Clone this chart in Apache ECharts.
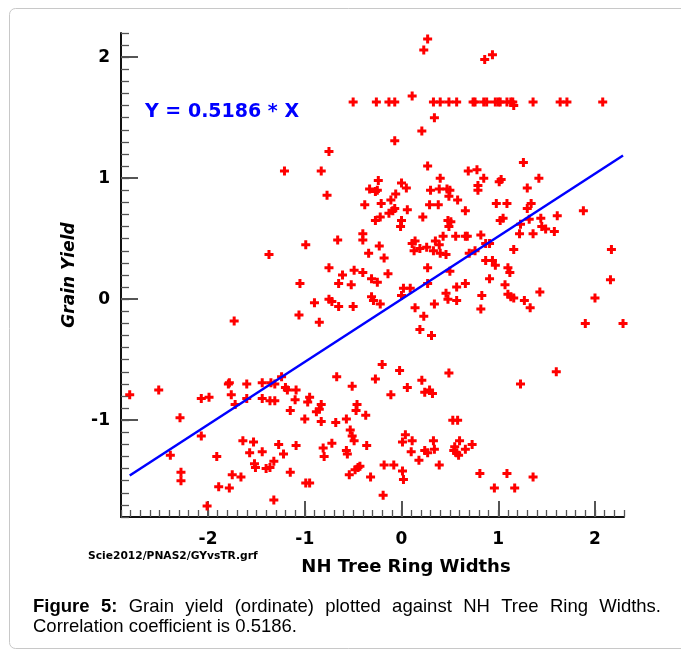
<!DOCTYPE html>
<html>
<head>
<meta charset="utf-8">
<style>
html,body{margin:0;padding:0;background:#fff;}
#chart{width:681px;height:651px;}
</style>
<script src="https://cdn.jsdelivr.net/npm/echarts@6/dist/echarts.min.js"></script>
</head>
<body>
<div id="chart"></div>
<script>
// ---------------- DATA ----------------
const slope = 0.5186;
const xTickLabels = ['-2', '-1', '0', '1', '2'];
const yTickLabels = ['-1', '0', '1', '2'];

// points sitting on the capped row (Grain Yield = 1.63)
const capY = 1.63;
const capRowX = [-0.50, -0.26, -0.13, -0.07, 0.33, 0.40, 0.49, 0.57, 0.74, 0.76, 0.85, 0.88, 0.97, 1.00, 1.02, 1.09, 1.13, 1.15, 1.36, 1.64, 1.71, 2.08];

const highPts = [[0.27,2.15],[0.23,2.06],[0.86,1.98],[0.94,2.02],[0.11,1.68],[1.16,1.60],[0.34,1.50],[0.21,1.39],[-0.07,1.31],[-0.75,1.22]];

const upperLeftPts = [[-1.21,1.06],[-1.37,0.37],[-0.83,1.06],[-0.77,0.86],[0.27,1.10],[0.40,1.00],[-0.24,0.98],[-0.33,0.91],[-0.27,0.89],[-0.25,0.90],[0.00,0.96],[0.05,0.92],[0.30,0.90],[0.39,0.91],[0.47,0.91],[0.50,0.90],[0.49,0.85],[0.58,0.82],[-0.06,0.87],[-0.11,0.82],[-0.38,0.78],[-0.21,0.79],[0.29,0.78],[0.38,0.78],[-0.07,0.75],[-0.09,0.73],[0.06,0.74],[-0.13,0.71],[0.22,0.68],[-0.22,0.68],[-0.27,0.65],[0.00,0.65],[-0.01,0.60],[0.48,0.65],[0.51,0.64],[0.49,0.60],[0.56,0.52],[0.43,0.52],[-0.40,0.54],[-0.40,0.49],[-0.66,0.49],[-0.99,0.45],[-0.23,0.44],[-0.34,0.38],[-0.18,0.34],[0.11,0.46],[0.14,0.48],[0.13,0.40],[0.19,0.42],[0.26,0.43],[0.33,0.40],[0.35,0.48],[0.39,0.45],[0.40,0.38],[0.46,0.37],[-0.75,0.26],[0.27,0.26]];

const upperRightPts = [[1.26,1.13],[0.69,1.06],[0.78,1.07],[0.85,1.00],[1.42,1.00],[1.01,0.97],[1.03,0.99],[0.79,0.94],[0.79,0.90],[1.30,0.92],[0.66,0.73],[0.98,0.79],[1.09,0.79],[1.34,0.79],[1.30,0.75],[1.88,0.73],[1.05,0.67],[1.02,0.65],[1.32,0.66],[1.44,0.67],[1.61,0.69],[1.23,0.62],[1.45,0.60],[1.49,0.58],[1.58,0.56],[0.66,0.52],[0.68,0.52],[0.82,0.53],[1.22,0.54],[1.36,0.54],[0.87,0.46],[0.91,0.46],[0.70,0.38],[0.76,0.40],[1.16,0.41],[2.17,0.41],[0.87,0.32],[0.94,0.32],[0.97,0.28],[1.10,0.26]];

const midPts = [[-1.73,-0.18],[-0.61,0.20],[-0.49,0.24],[-0.40,0.22],[-0.31,0.17],[-0.25,0.14],[-0.14,0.21],[-0.65,0.13],[-0.52,0.12],[-1.05,0.13],[0.02,0.09],[0.09,0.09],[0.27,0.13],[0.00,0.03],[0.50,0.23],[0.46,0.05],[0.48,0.00],[0.34,-0.04],[0.14,-0.07],[0.23,-0.14],[0.19,-0.25],[0.31,-0.30],[-0.90,-0.03],[-0.75,0.00],[-0.72,-0.02],[-0.65,-0.06],[-0.50,-0.06],[-0.31,0.02],[-0.29,-0.01],[-0.22,-0.04],[-1.06,-0.13],[-0.85,-0.19],[1.12,0.22],[0.91,0.17],[0.66,0.13],[0.57,0.10],[0.57,-0.01],[1.07,0.12],[0.83,0.03],[0.82,-0.08],[1.10,0.04],[1.13,0.02],[1.16,0.01],[1.27,-0.01],[1.33,-0.07],[1.43,0.06],[2.16,0.16],[2.00,0.01],[1.90,-0.20],[2.29,-0.20]];

const lowerLeftPts = [[-2.81,-0.79],[-2.51,-0.75],[-2.29,-0.98],[-2.07,-0.82],[-1.99,-0.81],[-1.78,-0.69],[-1.79,-0.70],[-1.76,-0.79],[-1.72,-0.87],[-1.60,-0.70],[-1.60,-0.82],[-1.44,-0.69],[-1.44,-0.82],[-1.35,-0.69],[-1.31,-0.70],[-1.36,-0.84],[-1.31,-0.84],[-1.24,-0.64],[-1.20,-0.73],[-1.18,-0.75],[-1.15,-0.92],[-2.07,-1.13],[-2.39,-1.29],[-2.28,-1.43],[-2.28,-1.50],[-1.91,-1.30],[-1.64,-1.17],[-1.53,-1.18],[-1.57,-1.27],[-1.44,-1.26],[-1.52,-1.36],[-1.51,-1.39],[-1.40,-1.40],[-1.36,-1.39],[-1.32,-1.34],[-1.27,-1.20],[-1.22,-1.28],[-1.15,-1.43],[-1.75,-1.45],[-1.66,-1.47],[-1.89,-1.55],[-1.78,-1.56],[-2.01,-1.71],[-1.32,-1.66]];

const lowerMidPts = [[-0.20,-0.54],[-0.02,-0.59],[-0.27,-0.66],[-0.67,-0.64],[-0.51,-0.72],[0.21,-0.67],[0.06,-0.73],[-0.11,-0.79],[0.24,-0.77],[0.29,-0.75],[0.32,-0.78],[0.49,-0.61],[-1.09,-0.75],[-1.10,-0.83],[-0.95,-0.81],[-0.97,-0.85],[-0.83,-0.87],[-0.85,-0.91],[-0.88,-0.93],[-1.00,-0.99],[-0.83,-1.01],[-0.68,-1.02],[-0.57,-0.99],[-0.46,-0.87],[-0.47,-0.92],[-0.37,-0.96],[-0.53,-1.08],[-0.51,-1.13],[-0.49,-1.17],[-1.09,-1.21],[-0.81,-1.23],[-0.80,-1.30],[-0.72,-1.19],[-0.57,-1.25],[-0.56,-1.28],[-0.36,-1.21],[-0.99,-1.52],[-0.95,-1.52],[-0.54,-1.45],[-0.48,-1.41],[-0.45,-1.39],[-0.43,-1.38],[-0.32,-1.47],[-0.18,-1.37],[-0.08,-1.37],[0.01,-1.42],[0.02,-1.49],[-0.19,-1.62],[0.04,-1.12],[0.01,-1.18],[0.11,-1.17],[0.10,-1.26],[0.18,-1.33],[0.24,-1.25],[0.27,-1.27],[0.33,-1.17],[0.34,-1.24],[0.39,-1.37]];

const lowerRightPts = [[1.60,-0.60],[1.23,-0.70],[0.53,-1.00],[0.58,-1.00],[0.60,-1.17],[0.55,-1.22],[0.54,-1.25],[0.57,-1.27],[0.59,-1.29],[0.66,-1.24],[0.73,-1.20],[0.81,-1.44],[1.09,-1.44],[1.36,-1.47],[0.96,-1.56],[1.17,-1.56]];

// ---------------- BUILD ----------------
const allPts = [].concat(
  capRowX.map(x => [x, capY]),
  highPts, upperLeftPts, upperRightPts, midPts, lowerLeftPts, lowerMidPts, lowerRightPts
);
const xsAll = allPts.map(p => p[0]);
const xLo = Math.min.apply(null, xsAll), xHi = Math.max.apply(null, xsAll);
const fitLine = [[xLo, slope * xLo], [xHi, slope * xHi]];

const X_MIN = -2.9, X_MAX = 2.3, Y_MIN = -1.8, Y_MAX = 2.2;
const AXIS_FONT = 'DejaVu Sans';
const labelFmt = (list) => (v) => {
  const s = String(Math.round(v));
  return list.indexOf(s) >= 0 ? s : '';
};

// caption justification
const mctx = document.createElement('canvas').getContext('2d');
const CAP_FONT = '"Liberation Sans", Arial, sans-serif';
const CAP_SIZE = 18.5;
const line1 = [
  {t:'Figure', b:true},{t:'5:', b:true},{t:'Grain'},{t:'yield'},{t:'(ordinate)'},{t:'plotted'},
  {t:'against'},{t:'NH'},{t:'Tree'},{t:'Ring'},{t:'Widths.'}
];
const capLeft = 33, capRight = 661;
function fontStr(b){ return (b ? 'bold ' : '') + CAP_SIZE + 'px ' + CAP_FONT; }
let total = 0;
line1.forEach(w => { mctx.font = fontStr(w.b); w.w = mctx.measureText(w.t).width; total += w.w; });
const gap = (capRight - capLeft - total) / (line1.length - 1);
let cx = capLeft;
const captionEls = [];
line1.forEach(w => {
  captionEls.push({type:'text', style:{text:w.t, x:cx, y:607, font:fontStr(w.b), fill:'#000', textVerticalAlign:'middle'}});
  cx += w.w + gap;
});
captionEls.push({type:'text', style:{text:'Correlation coefficient is 0.5186.', x:capLeft, y:627, font:fontStr(false), fill:'#000', textVerticalAlign:'middle'}});

const chart = echarts.init(document.getElementById('chart'), null, {renderer:'canvas'});
const plus = 'path://M0,3H3V0H6V3H9V6H6V9H3V6H0Z';

chart.setOption({
  animation: false,
  backgroundColor: '#fff',
  grid: {left:121, right:57, top:33, bottom:134, containLabel:false},
  xAxis: [
    {type:'value', min:X_MIN, max:X_MAX, interval:0.1, position:'bottom',
     axisLine:{show:true, onZero:false, lineStyle:{color:'#111', width:2}},
     axisTick:{show:true, inside:true, length:7, lineStyle:{color:'#555', width:1.3}},
     axisLabel:{show:false}, splitLine:{show:false}},
    {type:'value', min:X_MIN, max:X_MAX, minInterval:1, maxInterval:1, position:'bottom',
     axisLine:{show:false, onZero:false},
     axisTick:{show:true, inside:true, length:16, lineStyle:{color:'#555', width:2}},
     axisLabel:{show:true, margin:14, showMinLabel:false, showMaxLabel:false,
       formatter:labelFmt(xTickLabels), color:'#000', fontFamily:AXIS_FONT, fontWeight:'bold', fontSize:17},
     splitLine:{show:false}}
  ],
  yAxis: [
    {type:'value', min:Y_MIN, max:Y_MAX, interval:0.1, position:'left',
     axisLine:{show:true, onZero:false, lineStyle:{color:'#111', width:2}},
     axisTick:{show:true, inside:true, length:8, lineStyle:{color:'#555', width:1.3}},
     axisLabel:{show:false}, splitLine:{show:false}},
    {type:'value', min:Y_MIN, max:Y_MAX, minInterval:1, maxInterval:1, position:'left',
     axisLine:{show:false, onZero:false},
     axisTick:{show:true, inside:true, length:17, lineStyle:{color:'#555', width:2}},
     axisLabel:{show:true, margin:11, showMinLabel:false, showMaxLabel:false,
       formatter:labelFmt(yTickLabels), color:'#000', fontFamily:AXIS_FONT, fontWeight:'bold', fontSize:17},
     splitLine:{show:false},
     name:'Grain Yield', nameLocation:'middle', nameGap:43, nameRotate:90,
     nameTextStyle:{color:'#000', fontFamily:AXIS_FONT, fontWeight:'bold', fontStyle:'italic', fontSize:17}}
  ],
  series: [
    {type:'scatter', xAxisIndex:0, yAxisIndex:0, data:allPts, symbol:plus, symbolSize:9,
     itemStyle:{color:'#ff0000', opacity:1}, silent:true, z:3},
    {type:'line', xAxisIndex:0, yAxisIndex:0, data:fitLine, symbol:'none',
     lineStyle:{color:'#0000ff', width:2.5}, silent:true, z:4}
  ],
  graphic: [
    {type:'rect', shape:{x:9.5, y:8.5, width:720, height:640, r:6}, style:{fill:'none', stroke:'#c8c8c8', lineWidth:1}, silent:true, z:-10},
    {type:'text', style:{text:'Y = 0.5186 * X', x:145, y:112, font:'bold 19px "DejaVu Sans"', fill:'#0000ff', textVerticalAlign:'middle'}},
    {type:'text', style:{text:'NH Tree Ring Widths', x:406, y:567, font:'bold 18px "DejaVu Sans"', fill:'#000', textAlign:'center', textVerticalAlign:'middle'}},
    {type:'text', style:{text:'Scie2012/PNAS2/GYvsTR.grf', x:88, y:556, font:'bold 10.7px "DejaVu Sans"', fill:'#000', textVerticalAlign:'middle'}}
  ].concat(captionEls)
});
</script>
</body>
</html>
